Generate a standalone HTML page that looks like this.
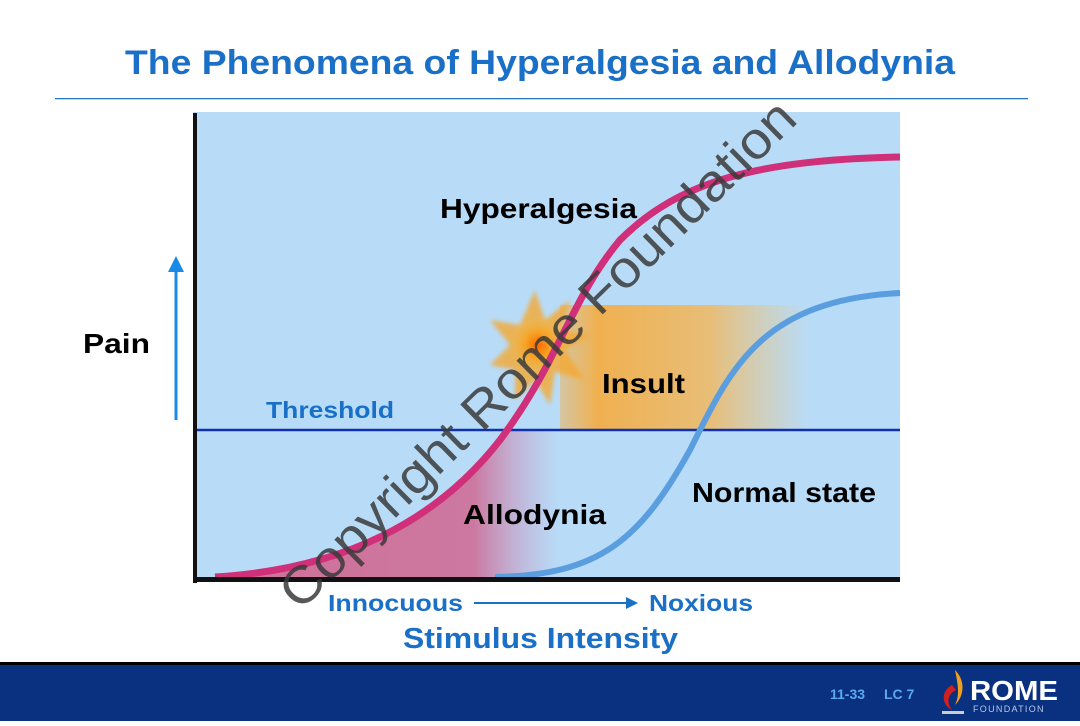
<!DOCTYPE html>
<html><head><style>
body{margin:0;width:1080px;height:721px;overflow:hidden;background:#fff;font-family:"Liberation Sans",sans-serif}
</style></head><body>
<svg width="1080" height="721" viewBox="0 0 1080 721" xmlns="http://www.w3.org/2000/svg" font-family="Liberation Sans, sans-serif">
<defs>
<linearGradient id="ins" x1="0" x2="1" y1="0" y2="0">
<stop offset="0" stop-color="#f0b050" stop-opacity="0.5"/><stop offset="0.15" stop-color="#f0b050"/><stop offset="0.6" stop-color="#f0b860" stop-opacity="0.85"/><stop offset="1" stop-color="#f0c070" stop-opacity="0"/></linearGradient>
<linearGradient id="all" x1="0" x2="1" y1="0" y2="0">
<stop offset="0" stop-color="#d07098"/><stop offset="0.75" stop-color="#cc78a0"/><stop offset="1" stop-color="#c8a0c8" stop-opacity="0"/></linearGradient>
<radialGradient id="star" cx="0.5" cy="0.5" r="0.5">
<stop offset="0" stop-color="#ff6a00"/><stop offset="0.4" stop-color="#f8a020"/><stop offset="1" stop-color="#f0c050" stop-opacity="0"/></radialGradient>
<filter id="bl"><feGaussianBlur stdDeviation="2"/></filter>
</defs>
<text x="125" y="74" font-size="34" font-weight="bold" fill="#1a6fc6" textLength="830" lengthAdjust="spacingAndGlyphs">The Phenomena of Hyperalgesia and Allodynia</text>
<rect x="55" y="98" width="973" height="1.3" fill="#2a7ac8"/>
<rect x="193" y="112" width="707" height="468" fill="#b8dcf8"/>
<rect x="560" y="305" width="250" height="125" fill="url(#ins)"/>
<path d="M215 577 C330 570 430 530 500 440 L505 430 L560 430 L560 577 Z" fill="url(#all)"/>
<polygon points="535,290 545,320 570,300 560,330 590,335 565,350 585,380 555,372 550,405 535,380 515,400 515,370 490,365 510,345 490,320 520,325" fill="#f5a830" filter="url(#bl)" opacity="0.8"/>
<circle cx="538" cy="345" r="30" fill="url(#star)"/>
<line x1="195" y1="430" x2="900" y2="430" stroke="#1030b0" stroke-width="2.5"/>
<path d="M215 577 C330 570 430 530 500 440 C560 360 570 300 620 240 C680 180 760 160 900 157" fill="none" stroke="#d0307a" stroke-width="7"/>
<path d="M495 577 C600 575 640 540 690 450 C730 370 760 300 900 293" fill="none" stroke="#5a9ee0" stroke-width="6"/>
<rect x="193" y="113" width="4" height="470" fill="#111"/>
<rect x="193" y="577" width="707" height="5" fill="#111"/>
<line x1="176" y1="420" x2="176" y2="268" stroke="#1a8ae8" stroke-width="3"/>
<polygon points="176,256 168,272 184,272" fill="#1a8ae8"/>
<text x="83" y="353" font-size="28" font-weight="bold" fill="#000" textLength="67" lengthAdjust="spacingAndGlyphs">Pain</text>
<text x="266" y="418" font-size="23" font-weight="bold" fill="#1a6fc6" textLength="128" lengthAdjust="spacingAndGlyphs">Threshold</text>
<text x="440" y="218" font-size="28" font-weight="bold" fill="#000" textLength="197" lengthAdjust="spacingAndGlyphs">Hyperalgesia</text>
<text x="602" y="393" font-size="28" font-weight="bold" fill="#000" textLength="83" lengthAdjust="spacingAndGlyphs">Insult</text>
<text x="692" y="502" font-size="28" font-weight="bold" fill="#000" textLength="184" lengthAdjust="spacingAndGlyphs">Normal state</text>
<text x="463" y="524" font-size="28" font-weight="bold" fill="#000" textLength="143" lengthAdjust="spacingAndGlyphs">Allodynia</text>
<text x="328" y="611" font-size="23" font-weight="bold" fill="#1a6fc6" textLength="135" lengthAdjust="spacingAndGlyphs">Innocuous</text>
<line x1="474" y1="603" x2="628" y2="603" stroke="#1a6fc6" stroke-width="2"/>
<polygon points="638,603 626,597 626,609" fill="#1a6fc6"/>
<text x="649" y="611" font-size="23" font-weight="bold" fill="#1a6fc6" textLength="104" lengthAdjust="spacingAndGlyphs">Noxious</text>
<text x="403" y="648" font-size="29" font-weight="bold" fill="#1a6fc6" textLength="275" lengthAdjust="spacingAndGlyphs">Stimulus Intensity</text>
<text x="0" y="0" font-size="52" fill="#3a3a3a" fill-opacity="0.85" transform="translate(300,612) rotate(-44.5)" textLength="700" lengthAdjust="spacingAndGlyphs">Copyright Rome Foundation</text>
<rect x="0" y="662" width="1080" height="3" fill="#000"/>
<rect x="0" y="665" width="1080" height="56" fill="#0a3080"/>
<text x="830" y="699" font-size="14" font-weight="bold" fill="#5aa8f0">11-33</text>
<text x="884" y="699" font-size="14" font-weight="bold" fill="#5aa8f0">LC 7</text>
<path d="M952 685 C940 692 942 705 952 710 C946 702 948 694 956 690 Z" fill="#d02020"/>
<path d="M955 670 C965 680 965 695 955 705 C960 695 958 685 955 670 Z" fill="#f0a020"/>
<rect x="942" y="711" width="22" height="3" fill="#ccc"/>
<text x="970" y="700" font-size="28" font-weight="bold" fill="#fff" textLength="88" lengthAdjust="spacingAndGlyphs">ROME</text>
<text x="973" y="712" font-size="9" fill="#b8c8e8" letter-spacing="1.3">FOUNDATION</text>
</svg>
</body></html>
